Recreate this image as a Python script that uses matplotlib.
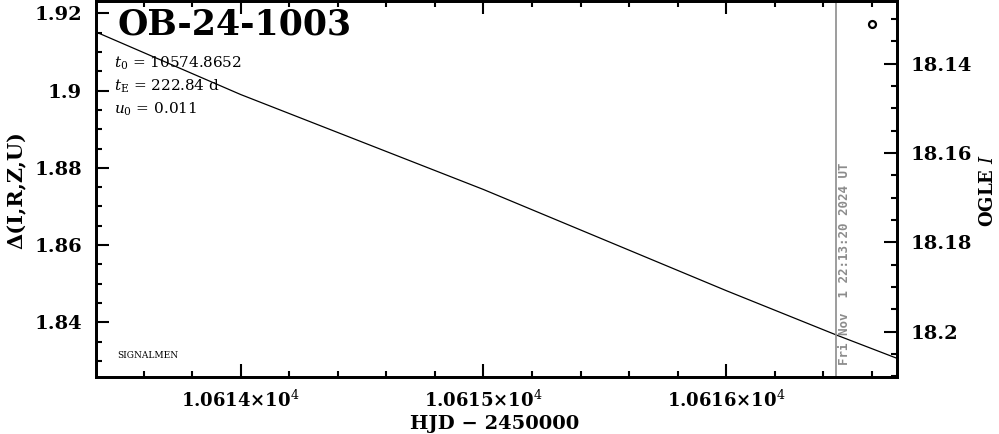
import matplotlib
matplotlib.use("Agg")
import matplotlib.pyplot as plt
from matplotlib.ticker import MultipleLocator, FuncFormatter
from matplotlib.transforms import blended_transform_factory

# model curve (HJD-2450000, delta mag)
model_t = [10613.404, 10614.0, 10615.0, 10616.0, 10616.454, 10616.702]
model_dm = [1.9152, 1.8990, 1.8744, 1.8482, 1.8367, 1.8307]

# OGLE I data
obs_t = [10616.6]
obs_i = [18.1310]

now_t = 10616.454
now_label = "Fri Nov  1 22:13:20 2024 UT"

event = "OB-24-1003"
params = [r"$t_0$ = 10574.8652", r"$t_{\rm E}$ = 222.84 d", r"$u_0$ = 0.011"]

plt.rcParams['font.family'] = ['DejaVu Serif']
plt.rcParams['mathtext.fontset'] = 'dejavuserif'

fig = plt.figure(figsize=(9.99, 4.34), dpi=100)
ax = fig.add_axes([96/999, 1-376.7/434, 800.7/999, 376.2/434])

ax.plot(model_t, model_dm, color='black', lw=0.9)
ax.axvline(now_t, color='#8c8c8c', lw=1.2)
ax.set_xlim(10613.404, 10616.702)
ax.set_ylim(1.82591, 1.92336)

ax.xaxis.set_major_locator(MultipleLocator(1))
ax.xaxis.set_minor_locator(MultipleLocator(0.2))
ax.yaxis.set_major_locator(MultipleLocator(0.02))
ax.yaxis.set_minor_locator(MultipleLocator(0.005))
ax.xaxis.set_major_formatter(FuncFormatter(lambda v, p: f"{v/1e4:.4f}×10$^4$"))
ax.yaxis.set_major_formatter(FuncFormatter(lambda v, p: f"{v:g}"))
ax.tick_params(which='both', direction='in', top=True, right=False, width=1.5)
ax.tick_params(axis='x', pad=9, labelsize=13)
ax.tick_params(axis='y', pad=10, labelsize=14)
ax.tick_params(which='major', length=9.5)
ax.tick_params(which='minor', length=4.5)
for lab in ax.get_xticklabels() + ax.get_yticklabels():
    lab.set_fontweight('bold')
for s in ax.spines.values():
    s.set_linewidth(2)

ax.set_xlabel("HJD − 2450000", fontsize=14, fontweight='bold')
ax.xaxis.set_label_coords(0.498, -0.103)
ax.set_ylabel("Δ(I,R,Z,U)", fontsize=15, fontweight='bold')
ax.yaxis.set_label_coords(-0.086, 0.4956)

ax2 = ax.twinx()
ax2.plot(obs_t, obs_i, 'o', mfc='white', mec='black', ms=5, mew=1.6)
ax2.set_ylim(18.21007, 18.12584)
ax2.yaxis.set_major_locator(MultipleLocator(0.02))
ax2.yaxis.set_minor_locator(MultipleLocator(0.005))
ax2.yaxis.set_major_formatter(FuncFormatter(lambda v, p: f"{v:g}"))
ax2.tick_params(which='both', direction='in', width=1.5, labelsize=14, pad=10)
ax2.tick_params(which='major', length=9.5)
ax2.tick_params(which='minor', length=4.5)
for lab in ax2.get_yticklabels():
    lab.set_fontweight('bold')
ax2.set_ylabel("OGLE $I$", fontsize=13, fontweight='bold')
ax2.yaxis.set_label_coords(1.103, 0.4956)
for s in ax2.spines.values():
    s.set_linewidth(2)

ax.text(0.027, 0.982, event, transform=ax.transAxes, fontsize=25,
        fontweight='bold', va='top', ha='left')
for i, p in enumerate(params):
    ax.text(0.022, 0.833 - i * 0.061, p, transform=ax.transAxes, fontsize=11,
            va='center', ha='left')
ax.text(0.027, 0.057, "SIGNALMEN", transform=ax.transAxes, fontsize=6.5,
        va='center', ha='left')
tr = blended_transform_factory(ax.transData, ax.transAxes)
ax.text(now_t + 0.008, 0.031, now_label, transform=tr, rotation=90,
        color='#8c8c8c', fontsize=9, fontweight='bold',
        family='DejaVu Sans Mono', va='bottom', ha='left')

fig.savefig("out.png", dpi=100)
